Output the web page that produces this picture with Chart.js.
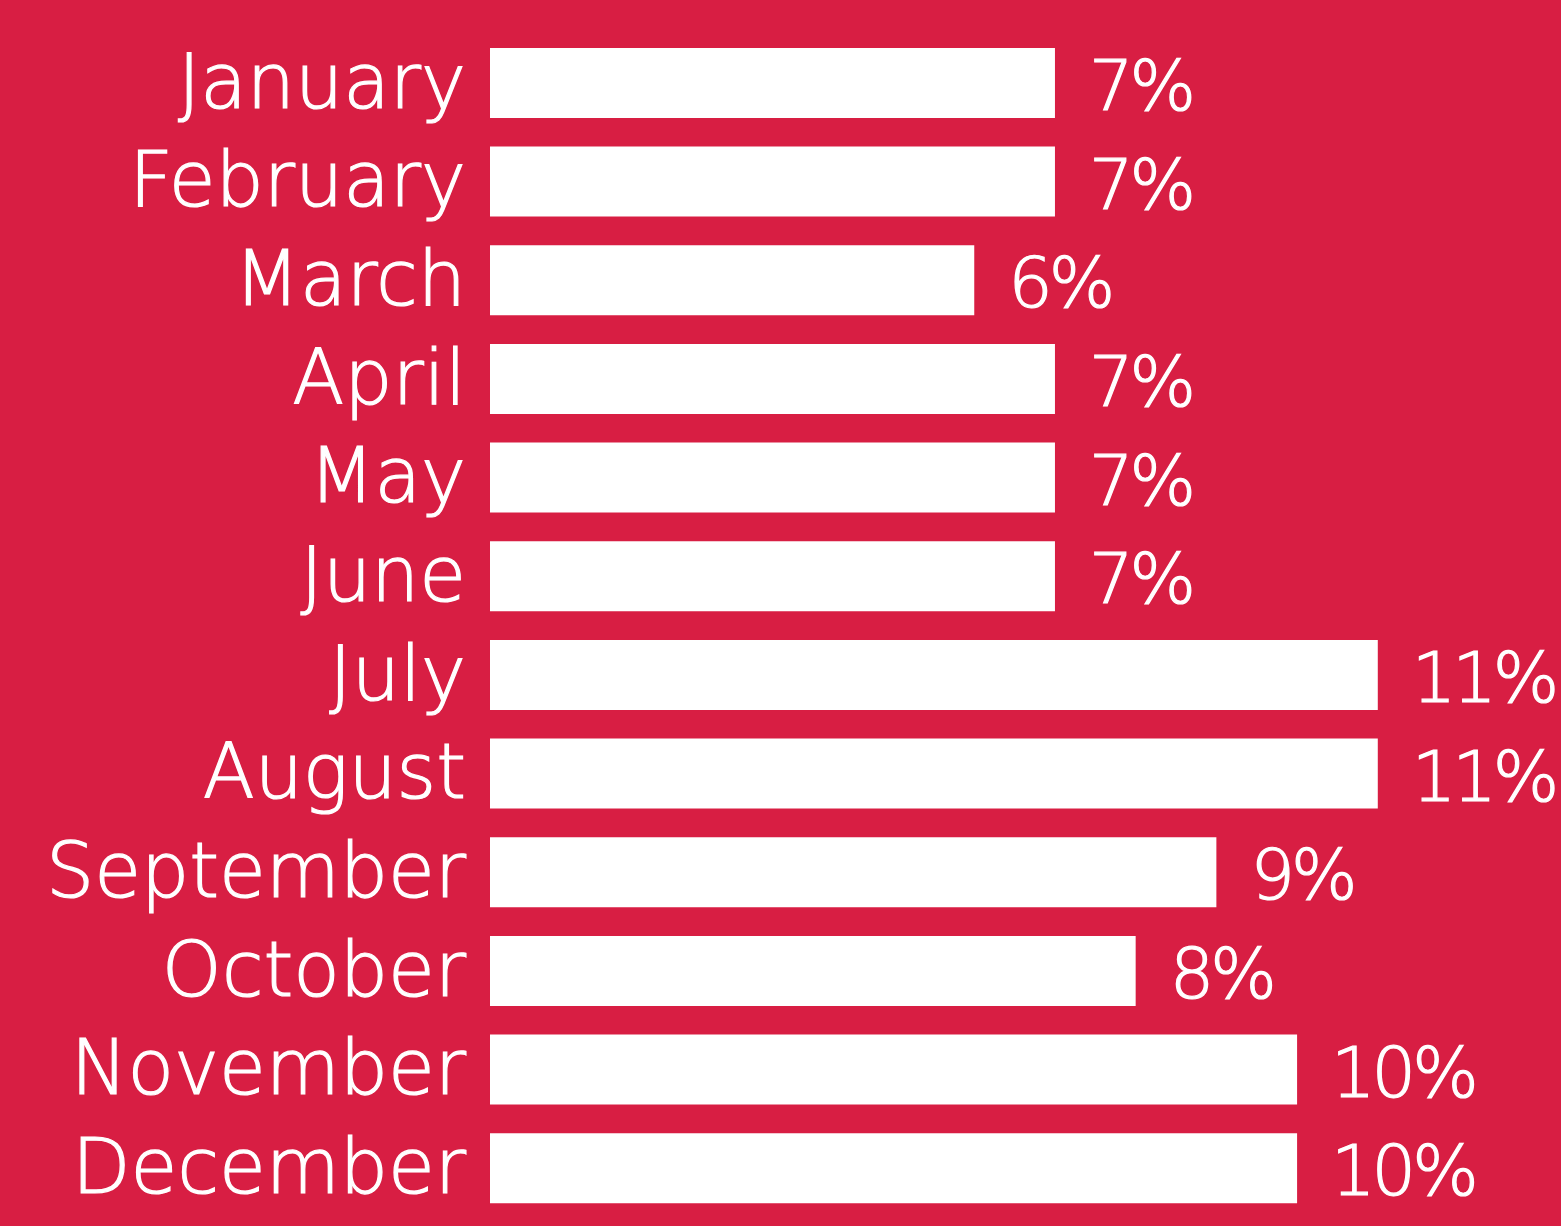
<!DOCTYPE html>
<html>
<head>
<meta charset="utf-8">
<script src="https://cdn.jsdelivr.net/npm/chart.js@4/dist/chart.umd.min.js"></script>
<style>
  html, body { margin: 0; padding: 0; background: #D81E43; }
  #wrap { width: 1561px; height: 1226px; }
</style>
</head>
<body>
<div id="wrap"><canvas id="c" width="1561" height="1226"></canvas></div>
<script>
const months = ["January","February","March","April","May","June","July","August","September","October","November","December"];
const shares = [7, 7, 6, 7, 7, 7, 11, 11, 9, 8, 10, 10];
const shareLabels = ["7%","7%","6%","7%","7%","7%","11%","11%","9%","8%","10%","10%"];

const FONT = '"DejaVu Sans", "Open Sans", sans-serif';

const valueLabels = {
  id: 'valueLabels',
  afterDatasetsDraw(chart) {
    const ctx = chart.ctx;
    const xs = chart.scales.x, ys = chart.scales.y;
    ctx.save();
    ctx.fillStyle = '#ffffff';
    ctx.strokeStyle = '#ffffff';
    ctx.lineWidth = 1.2;
    ctx.font = '200 70px ' + FONT;
    ctx.letterSpacing = '-4px';
    ctx.textAlign = 'left';
    ctx.textBaseline = 'middle';
    shares.forEach((v, i) => {
      const x = xs.getPixelForValue(v) + 34;
      const y = ys.getPixelForValue(i) + 9;
      ctx.fillText(shareLabels[i], x, y);
      ctx.strokeText(shareLabels[i], x, y);
    });
    ctx.restore();
  }
};

new Chart(document.getElementById('c'), {
  type: 'bar',
  data: {
    labels: months,
    datasets: [{
      data: shares,
      backgroundColor: '#ffffff',
      borderWidth: 0,
      barPercentage: 0.709,
      categoryPercentage: 1.0
    }]
  },
  options: {
    indexAxis: 'y',
    responsive: false,
    animation: false,
    layout: { padding: { top: 33.6, bottom: 8.4, left: 0, right: 0 } },
    plugins: { legend: { display: false }, tooltip: { enabled: false } },
    scales: {
      x: {
        display: false,
        min: 0,
        max: 13.27
      },
      y: {
        afterFit(s) { s.width = 490; s.paddingTop = 0; s.paddingBottom = 0; },
        grid: { display: false, drawTicks: false },
        border: { display: false },
        ticks: {
          color: '#ffffff',
          padding: 24,
          labelOffset: 5,
          textStrokeColor: '#ffffff',
          textStrokeWidth: 1.2,
          font: { family: FONT, size: 76, weight: 200 }
        }
      }
    }
  },
  plugins: [valueLabels]
});
</script>
</body>
</html>
